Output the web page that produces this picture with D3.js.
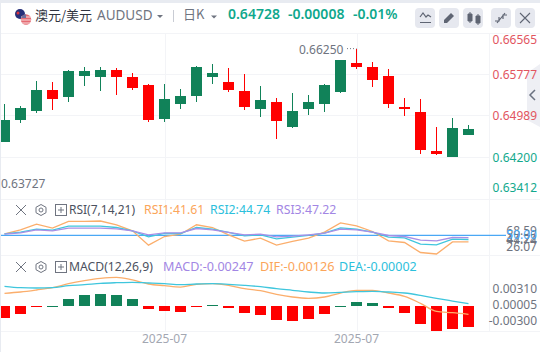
<!DOCTYPE html>
<html>
<head>
<meta charset="utf-8">
<script src="https://cdn.jsdelivr.net/npm/d3@7"></script>
<style>
html, body { margin: 0; padding: 0; background: #fff; overflow: hidden; }
svg { display: block; }
text { font-family: "Noto Sans", "Noto Sans CJK SC", sans-serif; }
.cjk { font-family: "Noto Sans CJK SC", sans-serif; }
</style>
</head>
<body>
<div id="chart"></div>
<script>
const opens = [0.64482, 0.64898, 0.65069, 0.65467, 0.65334, 0.65732, 0.65713, 0.65845, 0.65713, 0.65561,
    0.64917, 0.65201, 0.65353, 0.65713, 0.65618, 0.65448, 0.65107, 0.65239, 0.64766, 0.65107,
    0.65201, 0.65429, 0.65978, 0.65902, 0.65732, 0.65145, 0.65050, 0.64311, 0.64198, 0.64614];
const highs = [0.65201, 0.65164, 0.65637, 0.65618, 0.65845, 0.65902, 0.65902, 0.65883, 0.65789, 0.65580,
    0.65580, 0.65485, 0.65921, 0.65959, 0.65883, 0.65770, 0.65542, 0.65315, 0.65410, 0.65372,
    0.65580, 0.66035, 0.66250, 0.65997, 0.65864, 0.65315, 0.65296, 0.64766, 0.64936, 0.64804];
const lows = [0.64482, 0.64842, 0.65031, 0.65088, 0.65239, 0.65542, 0.65448, 0.65372, 0.65467, 0.64860,
    0.64860, 0.65107, 0.65239, 0.65580, 0.65429, 0.65088, 0.64955, 0.64539, 0.64747, 0.64993,
    0.65050, 0.65410, 0.65864, 0.65523, 0.65126, 0.64974, 0.64254, 0.64236, 0.64198, 0.64614];
const closes = [0.64898, 0.65126, 0.65467, 0.65296, 0.65826, 0.65826, 0.65845, 0.65713, 0.65504, 0.64898,
    0.65296, 0.65353, 0.65902, 0.65789, 0.65467, 0.65145, 0.65277, 0.64879, 0.65069, 0.65239,
    0.65561, 0.66035, 0.65902, 0.65656, 0.65201, 0.65107, 0.64330, 0.64254, 0.64747, 0.64728];

const rsi1 = [52.1, 57.2, 64.5, 59.4, 68.2, 68.2, 68.59, 63.7, 55.9, 37.5, 48.6, 51.6, 63.7, 60.2, 50.8,
    42.6, 46.5, 37.5, 42.2, 46.5, 54.2, 66.2, 62.4, 55.1, 43.0, 40.9, 28.0, 26.07, 41.6, 41.61];
const rsi2 = [52.1, 54.2, 58.1, 56.8, 61.9, 61.9, 61.9, 60.2, 55.9, 48.2, 52.5, 52.5, 60.2, 58.1, 53.8,
    49.5, 50.8, 45.6, 47.8, 50.0, 52.9, 59.8, 58.1, 54.2, 47.8, 46.9, 38.75, 37.9, 45.2, 44.74];
const rsi3 = [51.6, 53.35, 57.2, 55.9, 59.4, 59.4, 59.4, 58.5, 55.9, 50.8, 53.35, 53.35, 58.9, 57.2, 53.8,
    50.8, 51.6, 48.2, 49.05, 50.8, 52.9, 58.1, 57.2, 54.2, 49.9, 48.6, 43.9, 43.0, 47.3, 47.22];

const macdHist = [-0.00226, -0.00151, -0.00019, 0.00006, 0.00132, 0.00208, 0.00226, 0.00208, 0.00132, -0.00057,
    -0.00094, -0.00113, -0.00019, 0.00010, -0.00038, -0.00132, -0.00170, -0.00264, -0.00283, -0.00245,
    -0.00151, 0.00008, 0.00075, 0.00057, -0.00038, -0.00132, -0.00340, -0.00472, -0.00434, -0.00396];
const dif = [0.00239, 0.00264, 0.00302, 0.00346, 0.00421, 0.00478, 0.00522, 0.00541, 0.00491, 0.00415,
    0.00384, 0.00358, 0.00409, 0.00421, 0.00390, 0.00327, 0.00289, 0.00220, 0.00170, 0.00145,
    0.00170, 0.00245, 0.00296, 0.00296, 0.00245, 0.00182, 0.00050, -0.00101, -0.00126, -0.00157];
const dea = [0.00371, 0.00346, 0.00340, 0.00346, 0.00384, 0.00403, 0.00428, 0.00440, 0.00447, 0.00434,
    0.00421, 0.00403, 0.00415, 0.00421, 0.00409, 0.00390, 0.00365, 0.00327, 0.00296, 0.00264,
    0.00245, 0.00258, 0.00270, 0.00277, 0.00264, 0.00245, 0.00201, 0.00145, 0.00094, 0.00044];

const priceTicks = [0.66565, 0.65777, 0.64989, 0.64200, 0.63412];
const rsiTicks = [68.59, 47.22, 44.74, 26.07];
const macdTicks = [0.0031, 0.00005, -0.003];
const dateTicks = [10, 22];
const dateLabel = '2025-07';

const red = '#ff0000';
const green = '#118259';
const gridColor = '#f3f4f7';
const axisGray = '#6f7480';

const svg = d3.select('#chart').append('svg')
    .attr('width', 540)
    .attr('height', 352);

svg.append('rect').attr('width', 540).attr('height', 352).attr('fill', '#fff');

const x = d3.scaleLinear().domain([0, 29]).range([4.5, 468.5]);
const yPrice = d3.scaleLinear().domain([0.63412, 0.66565]).range([198.5, 32]);
const yRsi = d3.scaleLinear().domain([26.07, 68.59]).range([254, 221]);
const yMacd = d3.scaleLinear().domain([-0.005, 0.006]).range([332.5, 274.2]);
const rsiLabelY = d3.scaleLinear().domain([26.07, 68.59]).range([248, 232]);

// grid
const grid = svg.append('g').attr('stroke', gridColor).attr('stroke-width', 1);
grid.selectAll('.hgrid')
    .data(priceTicks.slice(1, 4))
    .enter()
    .append('line')
    .attr('x1', 0)
    .attr('x2', 489)
    .attr('y1', d => Math.round(yPrice(d)) + 0.5)
    .attr('y2', d => Math.round(yPrice(d)) + 0.5);
dateTicks.forEach(i => {
    grid.append('line')
        .attr('x1', Math.round(x(i)) + 0.5).attr('x2', Math.round(x(i)) + 0.5)
        .attr('y1', 33).attr('y2', 331);
});
[33.5, 199.5, 255.5, 331.5].forEach(yy => {
    grid.append('line').attr('x1', 0).attr('x2', 540).attr('y1', yy).attr('y2', yy);
});
grid.append('line').attr('x1', 489.5).attr('x2', 489.5).attr('y1', 33).attr('y2', 331);

// candles
const candles = svg.append('g');
const candleData = opens.map((o, i) => ({i, o, h: highs[i], l: lows[i], c: closes[i]}));
const candleColor = d => d.c >= d.o ? green : red;
candles.selectAll('.wick')
    .data(candleData)
    .enter()
    .append('line')
    .attr('x1', d => x(d.i))
    .attr('x2', d => x(d.i))
    .attr('y1', d => Math.round(yPrice(d.h)))
    .attr('y2', d => Math.round(yPrice(d.l)))
    .attr('stroke', candleColor)
    .attr('stroke-width', 1);
candles.selectAll('.body')
    .data(candleData)
    .enter()
    .append('rect')
    .attr('x', d => x(d.i) - 5.5)
    .attr('width', 11)
    .attr('y', d => Math.round(yPrice(Math.max(d.o, d.c))))
    .attr('height', d => Math.max(1, Math.round(yPrice(Math.min(d.o, d.c))) - Math.round(yPrice(Math.max(d.o, d.c)))))
    .attr('fill', candleColor);

// high / low marks
svg.append('text')
    .attr('x', 299).attr('y', 50.5)
    .attr('dominant-baseline', 'middle')
    .attr('font-size', 12).attr('fill', axisGray)
    .text(highs[22].toFixed(5));
svg.append('line')
    .attr('x1', 347).attr('x2', x(22)).attr('y1', yPrice(highs[22])).attr('y2', yPrice(highs[22]))
    .attr('stroke', axisGray).attr('stroke-dasharray', '1,2');
svg.append('text')
    .attr('x', 1).attr('y', 184.5)
    .attr('dominant-baseline', 'middle')
    .attr('font-size', 12).attr('fill', axisGray)
    .text('0.63727');

// side tab
svg.append('path')
    .attr('d', 'M540,64 L527,73 L527,120 L540,127 Z')
    .attr('fill', '#eeeff4');
svg.append('path')
    .attr('d', 'M535,90 L530,95 L535,100')
    .attr('fill', 'none').attr('stroke', '#6b7280').attr('stroke-width', 1.5);

// price labels, top and bottom ones are held inside the pane
svg.append('g').selectAll('text')
    .data(priceTicks)
    .enter()
    .append('text')
    .attr('x', 537)
    .attr('y', d => Math.min(189, Math.max(41, yPrice(d) + 2)))
    .attr('text-anchor', 'end')
    .attr('dominant-baseline', 'middle')
    .attr('font-size', 12)
    .attr('fill', d => d > closes[29] ? '#e2555f' : '#12a98d')
    .text(d => d.toFixed(5));

// RSI pane
const rsiLine = d3.line().x((d, i) => x(i)).y(d => yRsi(d));
svg.append('line')
    .attr('x1', 0).attr('x2', 506)
    .attr('y1', yRsi(50)).attr('y2', yRsi(50))
    .attr('stroke', '#4aa8f5').attr('stroke-width', 1.2);
[[rsi1, '#fbae6c'], [rsi2, '#3fc6dd'], [rsi3, '#a98fe6']].forEach(([values, color]) => {
    svg.append('path')
        .attr('d', rsiLine(values))
        .attr('fill', 'none')
        .attr('stroke', color)
        .attr('stroke-width', 1.3);
});
svg.append('g').selectAll('text')
    .data(rsiTicks)
    .enter()
    .append('text')
    .attr('x', 537)
    .attr('y', d => rsiLabelY(d))
    .attr('text-anchor', 'end')
    .attr('dominant-baseline', 'middle')
    .attr('font-size', 12)
    .attr('fill', axisGray)
    .text(d => d.toFixed(2));
svg.append('text')
    .attr('x', 537).attr('y', yRsi(50))
    .attr('text-anchor', 'end')
    .attr('dominant-baseline', 'middle')
    .attr('font-size', 12)
    .attr('fill', '#4aa8f5')
    .text('50.00');

// MACD pane
const zeroY = Math.round(yMacd(0));
svg.append('g').selectAll('rect')
    .data(macdHist)
    .enter()
    .append('rect')
    .attr('x', (d, i) => x(i) - 5.5)
    .attr('width', 11)
    .attr('y', d => d > 0 ? Math.round(yMacd(d)) : zeroY)
    .attr('height', d => Math.max(1, Math.abs(Math.round(yMacd(d)) - zeroY)))
    .attr('fill', d => d > 0 ? green : red);
const macdLine = d3.line().x((d, i) => x(i)).y(d => yMacd(d)).curve(d3.curveMonotoneX);
[[dif, '#fbae6c'], [dea, '#3fc6dd']].forEach(([values, color]) => {
    svg.append('path')
        .attr('d', macdLine(values))
        .attr('fill', 'none')
        .attr('stroke', color)
        .attr('stroke-width', 1.3);
});
svg.append('g').selectAll('text')
    .data(macdTicks)
    .enter()
    .append('text')
    .attr('x', 537)
    .attr('y', d => yMacd(d))
    .attr('text-anchor', 'end')
    .attr('dominant-baseline', 'middle')
    .attr('font-size', 12)
    .attr('fill', axisGray)
    .text(d => d.toFixed(5));

// date labels
svg.append('g').selectAll('text')
    .data(dateTicks)
    .enter()
    .append('text')
    .attr('x', d => x(d))
    .attr('y', 339.5)
    .attr('text-anchor', 'middle')
    .attr('dominant-baseline', 'middle')
    .attr('font-size', 12)
    .attr('fill', '#a3a7b2')
    .text(dateLabel);

// pane legends
function paneIcons(cy) {
    const g = svg.append('g').attr('fill', 'none').attr('stroke', '#6f7480').attr('stroke-width', 1);
    g.append('path').attr('d', `M16,${cy - 5} L26,${cy + 5} M26,${cy - 5} L16,${cy + 5}`);
    g.append('path').attr('d', `M41,${cy - 5.5} L46,${cy - 2.7} L46,${cy + 2.7} L41,${cy + 5.5} L36,${cy + 2.7} L36,${cy - 2.7} Z`);
    g.append('circle').attr('cx', 41).attr('cy', cy).attr('r', 2);
    g.append('rect').attr('x', 55.5).attr('y', cy - 5.5).attr('width', 11).attr('height', 11);
    g.append('path').attr('d', `M58,${cy} L64,${cy} M61,${cy - 3} L61,${cy + 3}`);
}
function legendText(px, py, str, color, size) {
    svg.append('text')
        .attr('x', px).attr('y', py)
        .attr('dominant-baseline', 'middle')
        .attr('font-size', size)
        .attr('fill', color)
        .text(str);
}
paneIcons(210);
legendText(69, 210.5, 'RSI(7,14,21)', '#4b5160', 12);
legendText(144, 210.5, 'RSI1:41.61', '#fba55a', 12.3);
legendText(210, 210.5, 'RSI2:44.74', '#2cc0dc', 12.3);
legendText(276, 210.5, 'RSI3:47.22', '#a286e4', 12.3);
paneIcons(267);
legendText(69, 267.5, 'MACD(12,26,9)', '#4b5160', 12.2);
legendText(163, 267.5, 'MACD:-0.00247', '#a286e4', 12.6);
legendText(260, 267.5, 'DIF:-0.00126', '#fba55a', 12.7);
legendText(339, 267.5, 'DEA:-0.00002', '#2cc0dc', 12.5);

// header
svg.append('rect').attr('width', 540).attr('height', 3).attr('fill', '#e8ebf1');
svg.append('rect').attr('width', 1).attr('height', 352).attr('fill', '#e8ebf1');
svg.append('circle').attr('cx', 20).attr('cy', 14).attr('r', 5).attr('fill', '#27307a');
svg.append('circle').attr('cx', 18).attr('cy', 13).attr('r', 1.5).attr('fill', '#d8343f');
svg.append('circle').attr('cx', 26).attr('cy', 19.5).attr('r', 5.2).attr('fill', '#e66a72');
svg.append('path').attr('d', 'M21,17 h10 M21,20 h10 M22,23 h8').attr('stroke', '#f6dfe0').attr('stroke-width', 1);
svg.append('path').attr('d', 'M21.5,17 a5,5 0 0 1 4.5,-2.7 v3.7 h-4.5 z').attr('fill', '#6c6f9c');

svg.append('text').attr('class', 'cjk')
    .attr('x', 35).attr('y', 16)
    .attr('dominant-baseline', 'middle')
    .attr('font-size', 13).attr('fill', '#30343f')
    .text('澳元/美元');
svg.append('text')
    .attr('x', 97).attr('y', 16.5)
    .attr('dominant-baseline', 'middle')
    .attr('font-size', 13.5).attr('fill', '#6f7480')
    .text('AUDUSD');
svg.append('path').attr('d', 'M157,15 h6 l-3,3 z').attr('fill', '#6f7480');
svg.append('line').attr('x1', 173.5).attr('x2', 173.5).attr('y1', 10).attr('y2', 22).attr('stroke', '#c9ccd4');
svg.append('text').attr('class', 'cjk')
    .attr('x', 183).attr('y', 15.5)
    .attr('dominant-baseline', 'middle')
    .attr('font-size', 13).attr('fill', '#6f7480')
    .text('日K');
svg.append('path').attr('d', 'M211,15.5 h6 l-3,3 z').attr('fill', '#6f7480');
[[228, closes[29].toFixed(5)], [288, '-0.00008'], [353, '-0.01%']].forEach(([px, str]) => {
    svg.append('text')
        .attr('x', px).attr('y', 15.5)
        .attr('dominant-baseline', 'middle')
        .attr('font-size', 14)
        .attr('font-weight', 600)
        .attr('fill', '#0fa88c')
        .text(str);
});

// toolbar buttons
const buttons = [415, 439, 463, 491, 515];
svg.append('g').selectAll('rect')
    .data(buttons)
    .enter()
    .append('rect')
    .attr('x', d => d)
    .attr('y', 8)
    .attr('width', 20)
    .attr('height', 20)
    .attr('rx', 4)
    .attr('fill', '#e6e8ef');
const iconColor = '#5f6573';
svg.append('path')
    .attr('d', 'M420,17 L423,13 L426,17 L428,15 L431,17 M420,22.5 H431')
    .attr('fill', 'none').attr('stroke', iconColor).attr('stroke-width', 1.2);
svg.append('path').attr('d', 'M444,20 L451,13 L454,16 L447,23 H444 Z').attr('fill', iconColor);
svg.append('path')
    .attr('d', 'M468,14 h4 v7 h-4 z M476,16 h4 v7 h-4 z M470,12 v11 M478,14 v11')
    .attr('fill', iconColor).attr('stroke', iconColor).attr('stroke-width', 1);
svg.append('path')
    .attr('d', 'M497,23 L505,13 M499,17 v4 h-4 M503,19 v-4 h4')
    .attr('fill', 'none').attr('stroke', iconColor).attr('stroke-width', 1.2);
svg.append('path')
    .attr('d', 'M520,13 L530,23 M530,13 L520,23')
    .attr('fill', 'none').attr('stroke', iconColor).attr('stroke-width', 1.1);
</script>
</body>
</html>
